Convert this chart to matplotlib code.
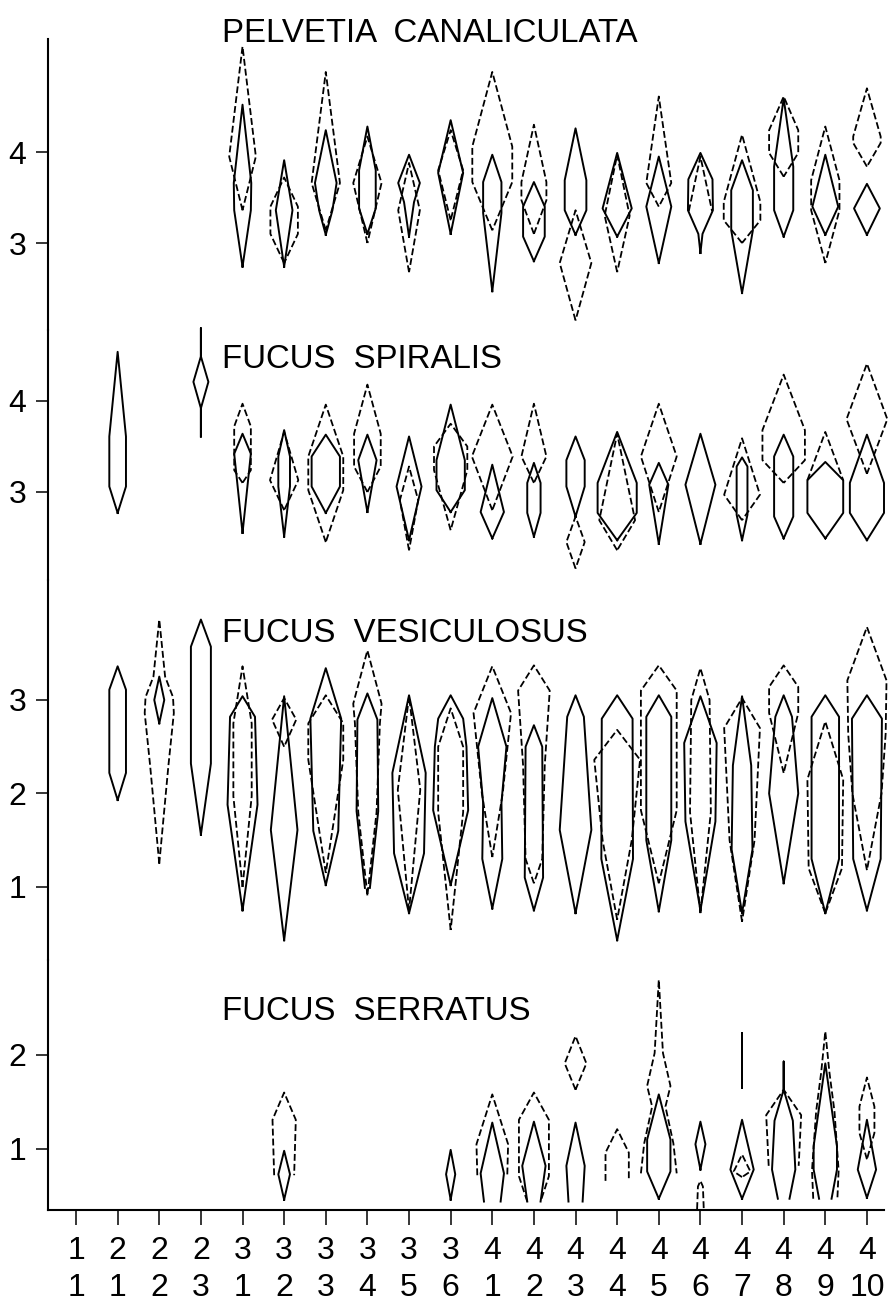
import matplotlib.pyplot as plt

plt.rcParams['font.family'] = ['Liberation Sans', 'DejaVu Sans']

STATION_MAJOR = [1, 2, 2, 2, 3, 3, 3, 3, 3, 3, 4, 4, 4, 4, 4, 4, 4, 4, 4, 4]
STATION_MINOR = [1, 1, 2, 3, 1, 2, 3, 4, 5, 6, 1, 2, 3, 4, 5, 6, 7, 8, 9, 10]

# kite outlines: (station index, [(level, half width), ...] listed bottom to top)
PELVETIA_SOLID = [
    (4, [(2.74, 0), (3.36, 0.2), (3.66, 0.21), (4.52, 0)]),
    (5, [(2.74, 0), (3.36, 0.2), (3.91, 0)]),
    (6, [(3.09, 0), (3.36, 0.16), (3.66, 0.26), (4.24, 0)]),
    (7, [(3.1, 0), (3.38, 0.2), (3.8, 0.2), (4.28, 0)]),
    (8, [(3.07, 0), (3.45, 0.12), (3.66, 0.26), (3.97, 0)]),
    (9, [(3.1, 0), (3.77, 0.3), (4.35, 0)]),
    (10, [(2.47, 0), (3.33, 0.22), (3.67, 0.22), (3.97, 0)]),
    (11, [(2.8, 0), (3.07, 0.26), (3.4, 0.26), (3.67, 0)]),
    (12, [(3.09, 0), (3.36, 0.26), (3.69, 0.26), (4.26, 0)]),
    (13, [(3.07, 0), (3.38, 0.35), (3.99, 0)]),
    (14, [(2.78, 0), (3.4, 0.3), (3.95, 0)]),
    (15, [(2.89, 0), (3.1, 0.05), (3.36, 0.3), (3.7, 0.29), (3.99, 0)]),
    (16, [(2.45, 0), (3.14, 0.26), (3.58, 0.26), (3.91, 0)]),
    (17, [(3.07, 0), (3.36, 0.23), (3.84, 0.23), (4.59, 0)]),
    (18, [(3.09, 0), (3.4, 0.31), (3.97, 0)]),
    (19, [(3.09, 0), (3.38, 0.31), (3.65, 0)]),
]
PELVETIA_DASHED = [
    (4, [(3.36, 0), (3.95, 0.32), (5.16, 0)]),
    (5, [(2.78, 0), (3.1, 0.33), (3.4, 0.33), (3.72, 0)]),
    (6, [(3.14, 0), (3.66, 0.34), (4.88, 0)]),
    (7, [(3.0, 0), (3.66, 0.34), (4.17, 0)]),
    (8, [(2.68, 0), (3.36, 0.26), (3.88, 0)]),
    (9, [(3.25, 0), (3.8, 0.3), (4.24, 0)]),
    (10, [(3.14, 0), (3.67, 0.48), (4.06, 0.48), (4.88, 0)]),
    (11, [(3.1, 0), (3.47, 0.3), (3.67, 0.3), (4.3, 0)]),
    (12, [(2.15, 0), (2.78, 0.38), (3.36, 0)]),
    (13, [(2.68, 0), (3.3, 0.3), (3.97, 0)]),
    (14, [(3.4, 0), (3.66, 0.3), (4.61, 0)]),
    (15, [(3.35, 0.28), (3.95, 0)]),
    (16, [(3.0, 0), (3.25, 0.44), (3.45, 0.44), (4.19, 0)]),
    (17, [(3.73, 0), (3.99, 0.35), (4.24, 0.35), (4.61, 0)]),
    (18, [(2.78, 0), (3.36, 0.34), (3.69, 0.34), (4.28, 0)]),
    (19, [(3.84, 0), (4.1, 0.33), (4.17, 0.33), (4.7, 0)]),
]

SPIRALIS_SOLID = [
    (1, [(2.77, 0), (3.06, 0.2), (3.61, 0.2), (4.54, 0)]),
    (3, [(3.61, 0), (3.92, 0), (4.21, 0.18), (4.49, 0), (4.8, 0)]),
    (4, [(2.55, 0), (3.42, 0.2), (3.64, 0)]),
    (5, [(2.51, 0), (3.06, 0.14), (3.39, 0.14), (3.68, 0)]),
    (6, [(2.77, 0), (3.06, 0.34), (3.39, 0.34), (3.63, 0)]),
    (7, [(2.78, 0), (3.35, 0.22), (3.63, 0)]),
    (8, [(2.47, 0), (3.06, 0.3), (3.61, 0)]),
    (9, [(2.78, 0), (3.02, 0.34), (3.35, 0.34), (3.96, 0)]),
    (10, [(2.49, 0), (2.78, 0.28), (3.3, 0)]),
    (11, [(2.51, 0), (2.77, 0.16), (3.1, 0.16), (3.32, 0)]),
    (12, [(2.73, 0), (3.06, 0.22), (3.35, 0.22), (3.61, 0)]),
    (13, [(2.47, 0), (2.77, 0.47), (3.1, 0.47), (3.66, 0)]),
    (14, [(2.43, 0), (3.08, 0.23), (3.32, 0)]),
    (15, [(2.43, 0), (3.08, 0.36), (3.64, 0)]),
    (16, [(2.47, 0), (2.75, 0.13), (3.28, 0.13), (3.38, 0)]),
    (17, [(2.49, 0), (2.73, 0.23), (3.39, 0.23), (3.63, 0)]),
    (18, [(2.49, 0), (2.77, 0.43), (3.13, 0.43), (3.33, 0)]),
    (19, [(2.47, 0), (2.77, 0.41), (3.1, 0.41), (3.63, 0)]),
]
SPIRALIS_DASHED = [
    (4, [(3.1, 0), (3.24, 0.2), (3.72, 0.2), (3.97, 0)]),
    (5, [(2.8, 0), (3.13, 0.34), (3.66, 0)]),
    (6, [(2.45, 0), (3.02, 0.42), (3.39, 0.42), (3.96, 0)]),
    (7, [(3.0, 0), (3.28, 0.32), (3.64, 0.32), (4.18, 0)]),
    (8, [(2.36, 0), (2.91, 0.22), (3.28, 0)]),
    (9, [(2.58, 0), (3.24, 0.4), (3.5, 0.4), (3.75, 0)]),
    (10, [(2.8, 0), (3.39, 0.49), (3.96, 0)]),
    (11, [(3.1, 0), (3.39, 0.3), (3.97, 0)]),
    (12, [(2.16, 0), (2.45, 0.22), (2.73, 0)]),
    (13, [(2.36, 0), (2.69, 0.43), (3.64, 0)]),
    (14, [(2.78, 0), (3.39, 0.43), (3.97, 0)]),
    (16, [(2.69, 0), (2.97, 0.43), (3.59, 0)]),
    (17, [(3.1, 0), (3.35, 0.51), (3.68, 0.51), (4.29, 0)]),
    (18, [(3.13, 0.43), (3.66, 0)]),
    (19, [(3.2, 0), (3.8, 0.49), (4.41, 0)]),
]

VESICULOSUS_SOLID = [
    (1, [(1.93, 0), (2.22, 0.2), (3.11, 0.2), (3.36, 0)]),
    (2, [(2.75, 0), (3.0, 0.12), (3.25, 0)]),
    (3, [(1.56, 0), (2.32, 0.24), (3.57, 0.24), (3.86, 0)]),
    (4, [(0.75, 0), (1.88, 0.36), (2.82, 0.3), (3.04, 0)]),
    (5, [(0.43, 0), (1.61, 0.32), (3.04, 0)]),
    (6, [(1.02, 0), (1.6, 0.3), (2.8, 0.37), (3.34, 0)]),
    (7, [(0.99, 0.06), (1.81, 0.26), (2.79, 0.24), (3.07, 0)]),
    (8, [(0.72, 0), (1.36, 0.36), (2.22, 0.4), (3.05, 0)]),
    (9, [(1.02, 0), (1.82, 0.42), (2.5, 0.38), (2.8, 0.3), (3.05, 0)]),
    (10, [(0.77, 0), (1.3, 0.24), (1.9, 0.22), (2.5, 0.34), (3.02, 0)]),
    (11, [(0.75, 0), (1.1, 0.22), (2.5, 0.2), (2.73, 0)]),
    (12, [(0.72, 0), (1.61, 0.38), (2.82, 0.2), (3.05, 0)]),
    (13, [(0.43, 0), (1.3, 0.38), (2.8, 0.37), (3.05, 0)]),
    (14, [(0.74, 0), (1.5, 0.3), (2.82, 0.3), (3.05, 0)]),
    (15, [(0.75, 0), (1.7, 0.36), (2.54, 0.39), (3.04, 0)]),
    (16, [(0.72, 0), (1.4, 0.25), (2.3, 0.22), (3.04, 0)]),
    (17, [(1.04, 0), (2.0, 0.35), (2.82, 0.2), (3.05, 0)]),
    (18, [(0.72, 0), (1.3, 0.33), (2.82, 0.33), (3.05, 0)]),
    (19, [(0.75, 0), (1.3, 0.33), (2.8, 0.36), (3.05, 0)]),
]
VESICULOSUS_DASHED = [
    (2, [(1.25, 0), (2.3, 0.22), (2.86, 0.35), (3.03, 0.33), (3.25, 0.14), (3.86, 0)]),
    (4, [(1.0, 0), (1.97, 0.22), (2.75, 0.22), (3.36, 0)]),
    (5, [(2.5, 0), (2.79, 0.29), (3.02, 0)]),
    (6, [(1.15, 0), (2.36, 0.42), (2.75, 0.42), (3.05, 0)]),
    (7, [(0.91, 0), (1.8, 0.22), (2.75, 0.3), (2.96, 0.34), (3.53, 0)]),
    (8, [(0.75, 0), (2.04, 0.27), (3.04, 0)]),
    (9, [(0.54, 0), (1.8, 0.3), (2.5, 0.3), (2.91, 0)]),
    (10, [(1.32, 0), (2.0, 0.25), (2.86, 0.45), (3.36, 0)]),
    (11, [(1.04, 0), (1.3, 0.2), (2.3, 0.26), (3.1, 0.38), (3.37, 0)]),
    (13, [(0.65, 0), (1.5, 0.35), (2.36, 0.55), (2.68, 0)]),
    (14, [(1.04, 0), (1.82, 0.43), (3.1, 0.43), (3.37, 0)]),
    (15, [(0.72, 0), (1.8, 0.25), (3.0, 0.22), (3.34, 0)]),
    (16, [(0.63, 0), (1.5, 0.3), (2.7, 0.43), (3.02, 0)]),
    (17, [(2.22, 0), (2.86, 0.35), (3.14, 0.35), (3.37, 0)]),
    (18, [(0.72, 0), (1.2, 0.4), (2.15, 0.43), (2.77, 0)]),
    (19, [(1.18, 0), (2.0, 0.35), (2.64, 0.45), (3.21, 0.47), (3.78, 0)]),
]

SERRATUS_SOLID = [
    (5, [(0.46, 0), (0.73, 0.14), (0.98, 0)]),
    (9, [(0.46, 0), (0.73, 0.11), (0.99, 0)]),
    (10, [(0.44, 0.2), (0.74, 0.28), (1.28, 0)]),
    (11, [(0.44, 0.16), (0.82, 0.28), (1.29, 0)]),
    (12, [(0.44, 0.17), (0.82, 0.22), (1.28, 0)]),
    (14, [(0.47, 0), (0.76, 0.28), (1.1, 0.28), (1.58, 0)]),
    (15, [(0.78, 0), (1.05, 0.12), (1.29, 0)]),
    (16, [(0.47, 0), (0.78, 0.28), (1.31, 0)]),
    (16, [(1.65, 0), (2.23, 0)]),
    (17, [(0.47, 0.14), (0.78, 0.28), (1.3, 0.22), (1.63, 0), (1.93, 0)]),
    (18, [(0.47, 0.15), (0.78, 0.28), (1.03, 0.28), (1.91, 0)]),
    (19, [(0.48, 0), (0.78, 0.22), (1.31, 0)]),
]
SERRATUS_DASHED = [
    (5, [(0.72, 0.24), (1.31, 0.28), (1.6, 0)]),
    (10, [(0.72, 0.36), (1.05, 0.38), (1.58, 0)]),
    (11, [(0.44, 0.16), (0.71, 0.36), (1.31, 0.36), (1.6, 0)]),
    (12, [(1.63, 0), (1.91, 0.26), (2.2, 0)]),
    (13, [(0.66, 0.28), (0.96, 0.28), (1.21, 0)]),
    (14, [(0.74, 0.43), (1.06, 0.35), (1.45, 0.16), (1.67, 0.28), (2.02, 0.1), (2.8, 0)]),
    (15, [(0.36, 0.08), (0.6, 0.06), (0.66, 0)]),
    (16, [(0.7, 0), (0.76, 0.2), (0.94, 0)]),
    (17, [(0.82, 0.36), (1.36, 0.42), (1.63, 0)]),
    (18, [(0.47, 0.29), (0.77, 0.32), (1.4, 0.22), (1.81, 0.1), (2.25, 0)]),
    (19, [(0.89, 0), (1.17, 0.18), (1.45, 0.18), (1.76, 0)]),
]

W, H = 889, 1314
LEFT, RIGHT = 48, 884

# title, (top px, bottom px), ylim, yticks, solid, dashed, title baseline px
panels = [
    ('PELVETIA  CANALICULATA', (39, 330), (2.044, 5.242), [3, 4],
     PELVETIA_SOLID, PELVETIA_DASHED, 42),
    ('FUCUS  SPIRALIS', (330, 580), (2.033, 4.780), [3, 4],
     SPIRALIS_SOLID, SPIRALIS_DASHED, 368),
    ('FUCUS  VESICULOSUS', (580, 960), (0.219, 4.283), [1, 2, 3],
     VESICULOSUS_SOLID, VESICULOSUS_DASHED, 642),
    ('FUCUS  SERRATUS', (960, 1210), (0.35, 3.01), [1, 2],
     SERRATUS_SOLID, SERRATUS_DASHED, 1020),
]


def draw_kites(ax, kites, **style):
    for station, outline in kites:
        levels = [lv for lv, _ in outline]
        widths = [w for _, w in outline]
        xs = [station - w for w in widths] + [station + w for w in widths[::-1]]
        ys = levels + levels[::-1]
        ax.plot(xs, ys, color='black', clip_on=False, **style)


fig = plt.figure(figsize=(W / 100, H / 100), dpi=100)

for i, (title, (top, bottom), ylim, yticks, solid, dashed, base) in enumerate(panels):
    ax = fig.add_axes([LEFT / W, 1 - bottom / H, (RIGHT - LEFT) / W, (bottom - top) / H])
    ax.set_xlim(-0.673, 19.41)
    ax.set_ylim(*ylim)
    for side in ('top', 'right', 'bottom'):
        ax.spines[side].set_visible(False)
    ax.spines['left'].set_linewidth(1.5)
    ax.set_yticks(yticks)
    ax.tick_params(axis='y', length=8.5, width=1.1, pad=7, labelsize=23)
    ax.patch.set_alpha(0)

    draw_kites(ax, solid, lw=1.4)
    draw_kites(ax, dashed, lw=1.3, dashes=(3.8, 1.7))

    fig.text(222 / W, 1 - base / H, title, fontsize=23.8, ha='left', va='baseline')

    if i == len(panels) - 1:
        ax.spines['bottom'].set_visible(True)
        ax.spines['bottom'].set_linewidth(1.5)
        ax.set_xticks(range(len(STATION_MAJOR)))
        ax.set_xticklabels([f'{a}\n{b}' for a, b in zip(STATION_MAJOR, STATION_MINOR)],
                           linespacing=1.3)
        ax.tick_params(axis='x', length=11, width=1.1, pad=8, labelsize=23)
    else:
        ax.tick_params(axis='x', bottom=False, labelbottom=False)

fig.savefig('out.png', dpi=100, facecolor='white')
